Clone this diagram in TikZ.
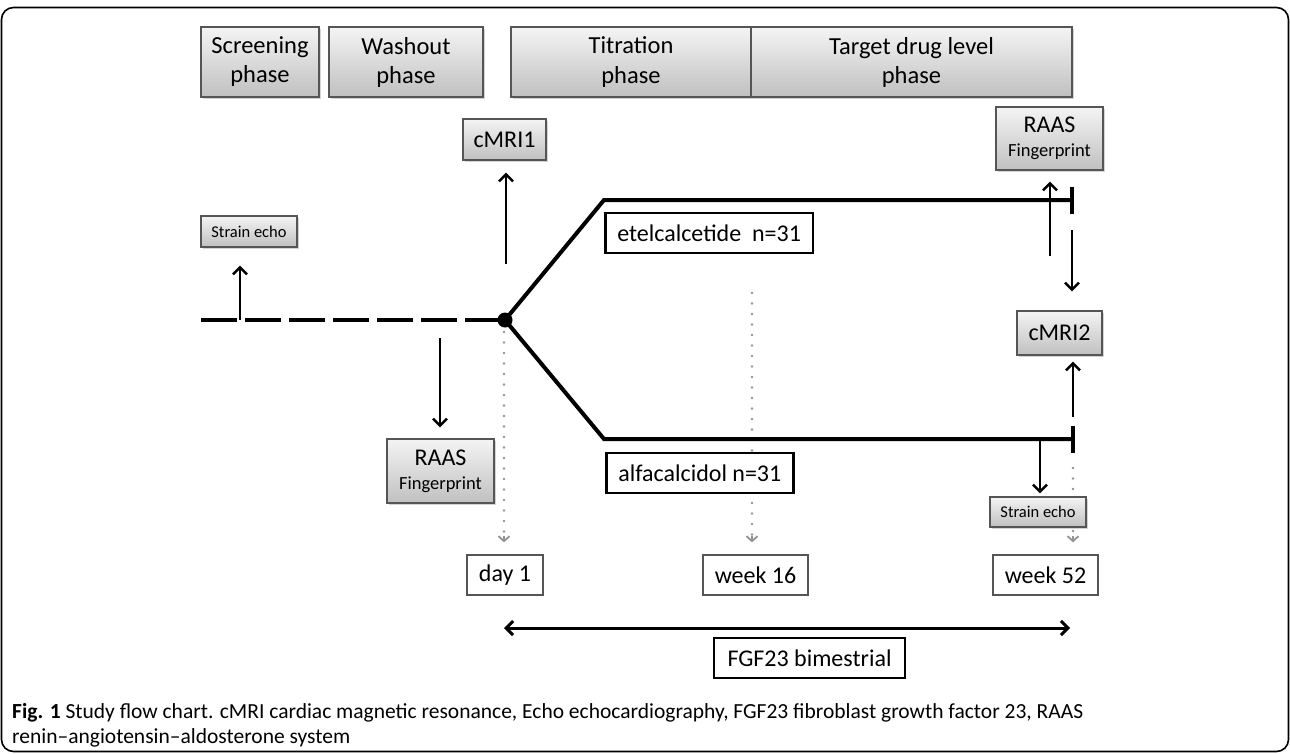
\documentclass[tikz,border=0pt]{standalone}
\usepackage{fontspec}
\setmainfont{Carlito}
\usetikzlibrary{arrows.meta,shadows}
\pgfdeclarelayer{bg}
\pgfsetlayers{bg,main}
\definecolor{boxtop}{HTML}{F4F4F4}
\definecolor{boxbot}{HTML}{C0C0C0}
\definecolor{boxline}{HTML}{555555}
\tikzset{
  graybox/.style={draw=boxline, line width=1.3pt, top color=boxtop, bottom color=boxbot,
    drop shadow={shadow xshift=1.5pt, shadow yshift=-1.5pt, opacity=0.35},
    inner sep=0pt, align=center},
  phasebox/.style={graybox, minimum height=70pt, font=\fontsize{24.5}{29}\selectfont},
  bigtxt/.style={font=\fontsize{24}{28}\selectfont},
  raasbox/.style={graybox, minimum width=107pt, minimum height=64pt, font=\fontsize{18.5}{24}\selectfont},
  whitebox/.style={draw=black, line width=2.6pt, fill=white, inner xsep=12pt, inner ysep=0pt,
    minimum height=40pt, bigtxt},
  daybox/.style={draw=boxline, line width=1.3pt, fill=white, inner sep=0pt, minimum height=40pt, bigtxt},
  trunk/.style={line width=4pt, black},
  arr/.style={line width=2.5pt, -{Straight Barb[length=7pt,width=14pt]}},
  dots/.style={draw=gray!85, line width=2.6pt, line cap=round, dash pattern=on 0pt off 10.5pt},
  dotarr/.style={gray!85, line width=1.8pt, -{Straight Barb[length=5pt,width=11pt]}},
}
\begin{document}
\begin{tikzpicture}[x=1pt,y=-1pt]
\useasboundingbox (0,0) rectangle (1290,753);
% frame
\draw[line width=1.6pt, rounded corners=12pt] (1.5,7.5) rectangle (1288.5,751.5);

% phase boxes
\node[phasebox, minimum width=118pt] (scr) at (260,62) {Screening\\phase};
\node[phasebox, minimum width=154pt] (wash) at (406,62) {Washout\\phase};
\node[phasebox, minimum width=240pt] (titr) at (631,62) {Titration\\phase};
\node[phasebox, minimum width=321pt] (targ) at (911.5,62) {Target drug level\\phase};

% event boxes
\node[graybox, minimum width=83pt, minimum height=41pt, bigtxt] (c1) at (504.5,139.5) {cMRI1};
\node[raasbox, minimum height=63pt] (r2) at (1049.5,138.5) {{\fontsize{24}{24}\selectfont RAAS}\\Fingerprint};
\node[graybox, minimum width=85pt, minimum height=44pt, bigtxt] (c2) at (1059.5,333) {cMRI2};
\node[raasbox] (r1) at (440.5,471) {{\fontsize{24}{24}\selectfont RAAS}\\Fingerprint};
\node[graybox, minimum width=96pt, minimum height=31pt, font=\fontsize{16.5}{18}\selectfont] (se1) at (249,231.5) {Strain echo};
\node[graybox, minimum width=96pt, minimum height=30pt, font=\fontsize{16.5}{18}\selectfont] (se2) at (1038,512) {Strain echo};

% arm boxes
\node[whitebox, anchor=west] (etel) at (604,233) {etelcalcetide~~n=31};
\node[whitebox, anchor=west] (alfa) at (605,473) {alfacalcidol n=31};

% time boxes
\node[daybox, minimum width=76pt] (d1) at (505,575) {day 1};
\node[daybox, minimum width=105pt] (w16) at (755.5,575) {week 16};
\node[daybox, minimum width=105pt] (w52) at (1045.5,575) {week 52};
\node[whitebox, inner xsep=0pt, minimum width=191pt] (fgf) at (809.5,658) {FGF23 bimestrial};

% trunk and branches
\node[circle, fill=black, inner sep=0pt, minimum size=15pt] (dot) at (505,320) {};
\coordinate (start) at (201,320);
\coordinate (ub) at (604,200);
\coordinate (ue) at (1072,200);
\coordinate (lb) at (604,439);
\coordinate (le) at (1073,439);
\draw[trunk, dash pattern=on 36pt off 8pt] (start) -- (dot.center);
\draw[trunk, line join=miter] (dot.center) -- (ub) -- (ue);
\draw[trunk, line join=miter] (dot.center) -- (lb) -- (le);
\draw[trunk] ([yshift=13pt]ue) -- ([yshift=-14pt]ue);
\draw[trunk] ([yshift=13pt]le) -- ([yshift=-14pt]le);

% dotted time lines (behind boxes)
\coordinate (t1) at (504,332);
\coordinate (t2) at (752,293);
\coordinate (t3) at (1073,468);
\begin{pgfonlayer}{bg}
\draw[dots] (t1) -- ([yshift=16pt]t1 |- d1.north);
\draw[dots] (t2) -- ([yshift=16pt]t2 |- w16.north);
\draw[dots] (t3) -- ([yshift=16pt]t3 |- w52.north);
\end{pgfonlayer}
\draw[dotarr, shorten >=12pt] ([yshift=18pt]t1 |- d1.north) -- (t1 |- d1.north);
\draw[dotarr, shorten >=12pt] ([yshift=18pt]t2 |- w16.north) -- (t2 |- w16.north);
\draw[dotarr, shorten >=12pt] ([yshift=18pt]t3 |- w52.north) -- (t3 |- w52.north);

% event arrows
\coordinate (a1) at (240,320);
\draw[arr, shorten >=18pt] (a1) -- (a1 |- se1.south);
\coordinate (a2) at (506,264);
\draw[arr, shorten >=12pt] (a2) -- (a2 |- c1.south);
\coordinate (a3) at (440,338);
\draw[arr, shorten >=11pt] (a3) -- (a3 |- r1.north);
\coordinate (a4) at (1050,256);
\draw[arr, shorten >=11pt] (a4) -- (a4 |- r2.south);
\coordinate (a5) at (1072,230);
\draw[arr, shorten >=19pt] (a5) -- (a5 |- c2.north);
\coordinate (a6) at (1073,417);
\draw[arr, shorten >=6pt] (a6) -- (a6 |- c2.south);
\coordinate (a7) at (1040,439);
\draw[arr, shorten >=3pt] (a7) -- (a7 |- se2.north);

% FGF23 span
\coordinate (f1) at (504,628);
\coordinate (f2) at (1070,628);
\draw[line width=3pt, {Straight Barb[length=7pt,width=14pt]}-{Straight Barb[length=7pt,width=14pt]}] (f1) -- (f2);

% caption
\node[anchor=base west, inner sep=0pt, font=\fontsize{21.5}{24}\selectfont] (cap1) at (12,718)
  {\textbf{Fig. 1} Study flow chart. cMRI cardiac magnetic resonance, Echo echocardiography, FGF23 fibroblast growth factor 23, RAAS};
\node[anchor=base west, inner sep=0pt, font=\fontsize{21.5}{24}\selectfont] (cap2) at (12,743)
  {renin–angiotensin–aldosterone system};
\end{tikzpicture}
\end{document}
